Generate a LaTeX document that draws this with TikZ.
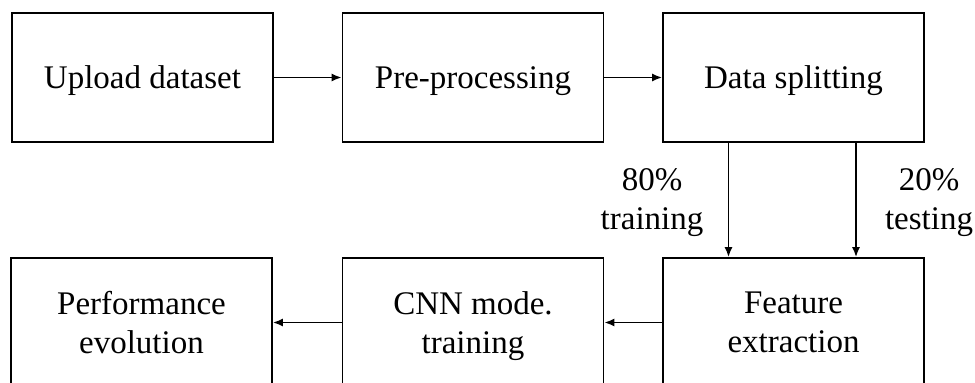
\documentclass[tikz,border=0pt]{standalone}
\usepackage{fontspec}
\setmainfont{Liberation Serif}
\usepackage{tikz}
\usetikzlibrary{arrows.meta}

\begin{document}
\begin{tikzpicture}[x=1pt, y=-1pt,
        stepbox/.style={draw, line width=1.7pt, minimum width=261pt, minimum height=129pt,
            inner sep=0pt, align=center, text depth=0pt, font=\fontsize{33}{39}\selectfont},
        arr/.style={line width=1.7pt, -{Latex[length=10pt,width=8pt]}},
        pct/.style={align=center, inner sep=0pt, font=\fontsize{33}{39}\selectfont}]
        \useasboundingbox (0,0) rectangle (975,383);
        % top row
        \node[stepbox] (upload) at (142.5,77.5) {Upload dataset};
        \node[stepbox] (prep) at (473,77.5) {Pre-processing};
        \node[stepbox] (split) at (793.5,77.5) {Data splitting};
        % bottom row
        \node[stepbox] (feat) at (793.5,322.5) {Feature\\extraction};
        \node[stepbox] (cnn) at (473,322.5) {CNN mode.\\training};
        \node[stepbox] (perf) at (141.5,322.5) {Performance\\evolution};
        % split labels
        \node[pct] (train) at (652,203) {80\%\\training};
        \node[pct] (test) at (929,203) {20\%\\testing};

        \draw[arr] (upload) -- (prep);
        \draw[arr] (prep) -- (split);
        \draw[arr] ([xshift=-65pt]split.south) -- ([xshift=-65pt]feat.north);
        \draw[arr] ([xshift=62.5pt]split.south) -- ([xshift=62.5pt]feat.north);
        \draw[arr] (feat) -- (cnn);
        \draw[arr] (cnn) -- (perf);
    \end{tikzpicture}
\end{document}
